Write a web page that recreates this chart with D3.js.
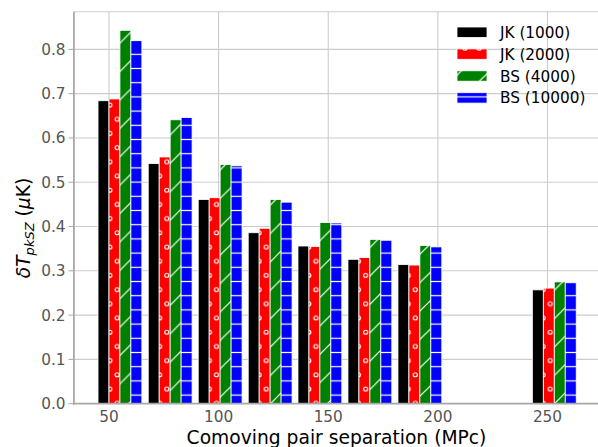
<!DOCTYPE html>
<html>
<head>
<meta charset="utf-8">
<script src="https://cdn.jsdelivr.net/npm/d3@7"></script>
<style>
  body { margin: 0; background: #fff; }
  svg { display: block; }
</style>
</head>
<body>
<script>
// pair separation of each bar group (centre of the group, MPc)
const separations = [55, 77.9, 100.7, 123.5, 146.2, 169, 191.8, 253.1];
const seriesNames = ["JK (1000)", "JK (2000)", "BS (4000)", "BS (10000)"];
const jk1000 = [0.684, 0.542, 0.461, 0.386, 0.356, 0.326, 0.314, 0.257];
const jk2000 = [0.688, 0.557, 0.465, 0.396, 0.355, 0.330, 0.313, 0.261];
const bs4000 = [0.843, 0.641, 0.540, 0.461, 0.409, 0.371, 0.357, 0.275];
const bs10000 = [0.820, 0.646, 0.537, 0.455, 0.408, 0.369, 0.354, 0.273];
const xTicks = [50, 100, 150, 200, 250];
const yTicks = [0, 0.1, 0.2, 0.3, 0.4, 0.5, 0.6, 0.7, 0.8];

function main(){
    const canvasWidth = 598;
    const canvasHeight = 447;
    const font = "DejaVu Sans";
    const barWidth = 5;

    const svg = d3.select("body").append("svg")
        .attr("width", canvasWidth)
        .attr("height", canvasHeight);

    svg.append("rect").attr("width", canvasWidth).attr("height", canvasHeight).attr("fill", "#fff");

    const xScale = d3.scaleLinear().domain([34, 275]).range([73.9, 602.3]);
    const yScale = d3.scaleLinear().domain([0, 0.885]).range([403.7, 11.7]);

    // hatch patterns (white on colour, like matplotlib hatches)
    const defs = svg.append("defs");
    const unit = 14.2;

    const dots = defs.append("pattern").attr("id", "hatch-o")
        .attr("patternUnits", "userSpaceOnUse")
        .attr("x", 106.45).attr("y", 97.9)
        .attr("width", unit).attr("height", unit * 2);
    dots.append("rect").attr("width", unit).attr("height", unit * 2).attr("fill", "red");
    [[unit / 4, unit / 2], [unit * 3 / 4, unit * 1.5]].forEach(p => {
        dots.append("circle").attr("cx", p[0]).attr("cy", p[1]).attr("r", 2)
            .attr("fill", "none").attr("stroke", "#fff").attr("stroke-width", 1.1);
    });

    const diag = defs.append("pattern").attr("id", "hatch-slash")
        .attr("patternUnits", "userSpaceOnUse")
        .attr("x", 0).attr("y", 21)
        .attr("width", unit * 2).attr("height", unit * 2);
    diag.append("rect").attr("width", unit * 2).attr("height", unit * 2).attr("fill", "green");
    [0, unit * 2, unit * 4].forEach(c => {
        diag.append("line").attr("x1", c - unit * 2 - 1).attr("y1", unit * 2 + 1)
            .attr("x2", c + 1).attr("y2", -1)
            .attr("stroke", "#fff").attr("stroke-width", 1.2);
    });

    const dash = defs.append("pattern").attr("id", "hatch-dash")
        .attr("patternUnits", "userSpaceOnUse")
        .attr("x", 0).attr("y", 54.3 - unit / 2)
        .attr("width", 10).attr("height", unit);
    dash.append("rect").attr("width", 10).attr("height", unit).attr("fill", "blue");
    dash.append("line").attr("x1", 0).attr("x2", 10).attr("y1", unit / 2).attr("y2", unit / 2)
        .attr("stroke", "#fff").attr("stroke-width", 1.2);

    const fills = ["black", "url(#hatch-o)", "url(#hatch-slash)", "url(#hatch-dash)"];
    const series = [jk1000, jk2000, bs4000, bs10000];

    // grid
    const grid = svg.append("g").attr("stroke", "#cccccc").attr("stroke-width", 1.1);
    grid.selectAll("line.h").data(yTicks.slice(1)).enter().append("line")
        .attr("x1", xScale(34)).attr("x2", canvasWidth)
        .attr("y1", d => yScale(d)).attr("y2", d => yScale(d));
    grid.selectAll("line.v").data(xTicks).enter().append("line")
        .attr("x1", d => xScale(d)).attr("x2", d => xScale(d))
        .attr("y1", yScale(0.885)).attr("y2", yScale(0));
    // top spine
    grid.append("line").attr("x1", xScale(34)).attr("x2", canvasWidth)
        .attr("y1", yScale(0.885)).attr("y2", yScale(0.885));

    // bars
    series.forEach((vals, i) => {
        const offset = (i - 2) * barWidth;
        svg.append("g").selectAll("rect")
            .data(vals)
            .enter()
            .append("rect")
            .attr("x", (d, j) => xScale(separations[j] + offset))
            .attr("y", d => yScale(d))
            .attr("width", xScale(barWidth) - xScale(0))
            .attr("height", d => yScale(0) - yScale(d))
            .attr("fill", fills[i])
            .attr("stroke", "#fff")
            .attr("stroke-width", 0.8);
    });

    // spines
    svg.append("line").attr("x1", xScale(34)).attr("x2", xScale(34))
        .attr("y1", yScale(0.885)).attr("y2", yScale(0) + 1)
        .attr("stroke", "#a8a8a8").attr("stroke-width", 1.8);
    svg.append("line").attr("x1", xScale(34) - 1).attr("x2", canvasWidth)
        .attr("y1", yScale(0)).attr("y2", yScale(0))
        .attr("stroke", "#a8a8a8").attr("stroke-width", 1.8);

    // y ticks
    const yAxis = svg.append("g");
    yAxis.selectAll("line").data(yTicks).enter().append("line")
        .attr("x1", 68.5).attr("x2", xScale(34))
        .attr("y1", d => yScale(d)).attr("y2", d => yScale(d))
        .attr("stroke", "#a8a8a8").attr("stroke-width", 1);
    yAxis.selectAll("text").data(yTicks).enter().append("text")
        .attr("x", 65.5)
        .attr("y", d => yScale(d) + 5.5)
        .attr("text-anchor", "end")
        .attr("font-family", font)
        .attr("font-size", "15.3px")
        .attr("fill", "#555")
        .text(d => d3.format(".1f")(d));

    // x tick labels
    svg.append("g").selectAll("text").data(xTicks).enter().append("text")
        .attr("x", d => xScale(d))
        .attr("y", 422.3)
        .attr("text-anchor", "middle")
        .attr("font-family", font)
        .attr("font-size", "15.3px")
        .attr("fill", "#555")
        .text(d => d);

    // axis labels
    svg.append("text")
        .attr("x", 336.5)
        .attr("y", 444)
        .attr("text-anchor", "middle")
        .attr("font-family", font)
        .attr("font-size", "18.7px")
        .attr("fill", "#000")
        .text("Comoving pair separation (MPc)");

    const ylab = svg.append("text")
        .attr("transform", "translate(29.5,228) rotate(-90)")
        .attr("text-anchor", "middle")
        .attr("font-family", font)
        .attr("font-size", "18.7px")
        .attr("fill", "#000");
    ylab.append("tspan").attr("font-style", "italic").text("δT");
    ylab.append("tspan").attr("font-style", "italic").attr("font-size", "13px").attr("dy", 4).text("pkSZ");
    ylab.append("tspan").attr("dy", -4).text(" (");
    ylab.append("tspan").attr("font-style", "italic").text("μ");
    ylab.append("tspan").text("K)");

    // legend
    const legend = svg.append("g");
    seriesNames.forEach((name, i) => {
        const cy = 32.2 + i * 21.9;
        legend.append("rect")
            .attr("x", 457).attr("y", cy - 5.2)
            .attr("width", 30).attr("height", 10.4)
            .attr("fill", fills[i])
            .attr("stroke", "#fff").attr("stroke-width", 0.8);
        legend.append("text")
            .attr("x", 500).attr("y", cy + 5.5)
            .attr("font-family", font)
            .attr("font-size", "15.3px")
            .attr("fill", "#000")
            .text(name);
    });
}
main();
</script>
</body>
</html>
